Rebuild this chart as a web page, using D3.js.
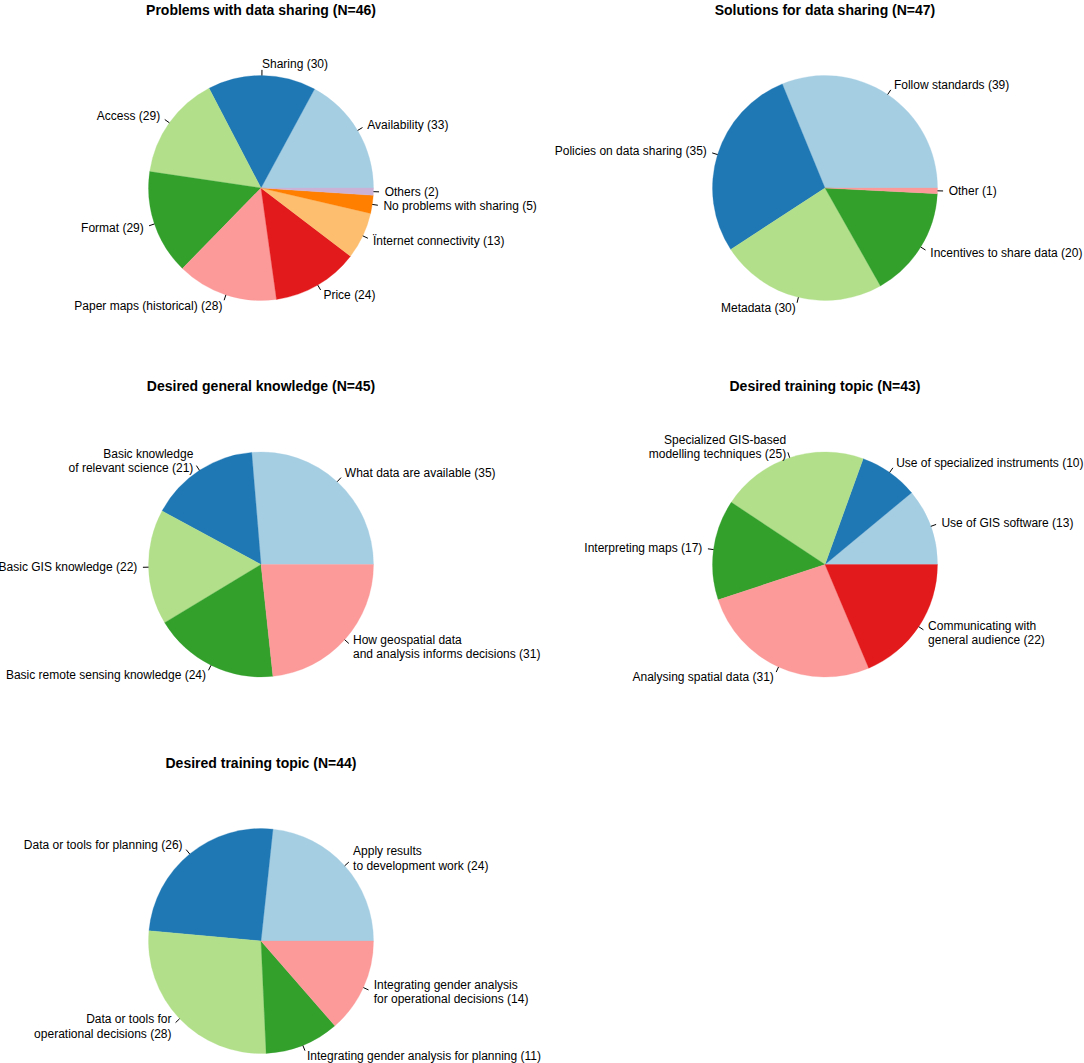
<!DOCTYPE html>
<html>
<head>
<meta charset="utf-8">
<script src="https://cdn.jsdelivr.net/npm/d3@7"></script>
<style>
  html, body { margin: 0; padding: 0; background: #fff; }
  svg { display: block; font-family: "Liberation Sans", Arial, Helvetica, sans-serif; }
</style>
</head>
<body>
<svg id="chart" width="1084" height="1063"></svg>
<script>
const titles = [
  "Problems with data sharing (N=46)",
  "Solutions for data sharing (N=47)",
  "Desired general knowledge (N=45)",
  "Desired training topic (N=43)",
  "Desired training topic (N=44)"
];

const labels1 = ["Availability (33)", "Sharing (30)", "Access (29)", "Format (29)",
  "Paper maps (historical) (28)", "Price (24)", "\u00CFnternet connectivity (13)",
  "No problems with sharing (5)", "Others (2)"];
const values1 = [33, 30, 29, 29, 28, 24, 13, 5, 2];

const labels2 = ["Follow standards (39)", "Policies on data sharing (35)", "Metadata (30)",
  "Incentives to share data (20)", "Other (1)"];
const values2 = [39, 35, 30, 20, 1];

const labels3 = ["What data are available (35)", "Basic knowledge\nof relevant science (21)",
  "Basic GIS knowledge (22)", "Basic remote sensing knowledge (24)",
  "How geospatial data\nand analysis informs decisions (31)"];
const values3 = [35, 21, 22, 24, 31];

const labels4 = ["Use of GIS software (13)", "Use of specialized instruments (10)",
  "Specialized GIS-based\nmodelling techniques (25)", "Interpreting maps (17)",
  "Analysing spatial data (31)", "Communicating with\ngeneral audience (22)"];
const values4 = [13, 10, 25, 17, 31, 22];

const labels5 = ["Apply results\nto development work (24)", "Data or tools for planning (26)",
  "Data or tools for\noperational decisions (28)", "Integrating gender analysis for planning (11)",
  "Integrating gender analysis\nfor operational decisions (14)"];
const values5 = [24, 26, 28, 11, 14];

const colors = ["#A6CEE3", "#1F78B4", "#B2DF8A", "#33A02C", "#FB9A99", "#E31A1C", "#FDBF6F", "#FF7F00", "#CAB2D6"];

const charts = [
  { title: titles[0], labels: labels1, values: values1 },
  { title: titles[1], labels: labels2, values: values2 },
  { title: titles[2], labels: labels3, values: values3 },
  { title: titles[3], labels: labels4, values: values4 },
  { title: titles[4], labels: labels5, values: values5 }
];

const svg = d3.select("#chart");
const colX = [261, 825];
const rowY0 = 188, rowStep = 376.5;
const titleY0 = 14.5;
const R = 112.5;
const lineH = 14.4;

const pie = d3.pie().sort(null).value(d => d)
  .startAngle(Math.PI / 2).endAngle(Math.PI / 2 - 2 * Math.PI);
const arc = d3.arc().innerRadius(0).outerRadius(R);
const color = d3.scaleOrdinal().range(colors);

charts.forEach((c, i) => {
  const col = i % 2, row = Math.floor(i / 2);
  const cx = colX[col], cy = rowY0 + row * rowStep;
  const g = svg.append("g").attr("transform", `translate(${cx},${cy})`);

  svg.append("text")
    .attr("x", cx).attr("y", titleY0 + row * rowStep)
    .attr("text-anchor", "middle")
    .attr("font-weight", "bold")
    .attr("font-size", 14)
    .attr("fill", "#000")
    .text(c.title);

  const arcs = pie(c.values);
  color.domain(c.labels);

  g.selectAll("path.slice").data(arcs).enter().append("path")
    .attr("class", "slice")
    .attr("d", arc)
    .attr("fill", (d, j) => colors[j])
    .attr("stroke", (d, j) => colors[j])
    .attr("stroke-width", 0.3);

  arcs.forEach((d, j) => {
    const mid = (d.startAngle + d.endAngle) / 2;
    const ux = Math.sin(mid), uy = -Math.cos(mid);
    g.append("line")
      .attr("x1", ux * R).attr("y1", uy * R)
      .attr("x2", ux * R * 1.05).attr("y2", uy * R * 1.05)
      .attr("stroke", "#000").attr("stroke-width", 1);
    const lines = c.labels[j].split("\n");
    const tx = ux * R * 1.1, ty = uy * R * 1.1;
    const t = g.append("text")
      .attr("x", tx).attr("y", ty)
      .attr("text-anchor", ux < -1e-9 ? "end" : "start")
      .attr("font-size", 12)
      .attr("fill", "#000");
    lines.forEach((ln, k) => {
      t.append("tspan")
        .attr("x", tx)
        .attr("y", ty + (k - (lines.length - 1) / 2) * lineH)
        .attr("dominant-baseline", "central")
        .text(ln);
    });
  });
});
</script>
</body>
</html>
